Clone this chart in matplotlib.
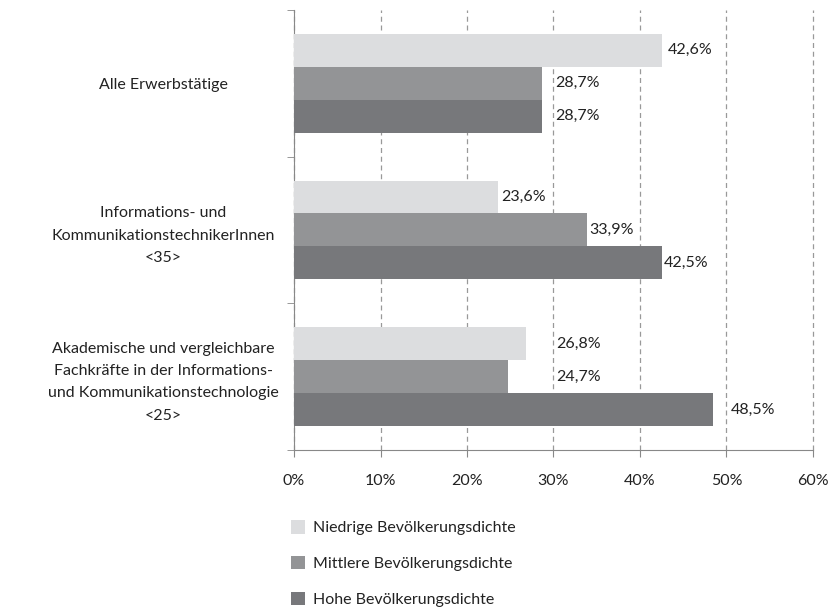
import matplotlib.pyplot as plt
import numpy as np

plt.rcParams['font.family'] = ['Lato', 'DejaVu Sans']

# Daten
kategorien = ['Alle Erwerbstätige',
              'Informations- und\nKommunikationstechnikerInnen\n<35>',
              'Akademische und vergleichbare\nFachkräfte in der Informations-\nund Kommunikationstechnologie\n<25>']
serien = ['Niedrige Bevölkerungsdichte', 'Mittlere Bevölkerungsdichte', 'Hohe Bevölkerungsdichte']
niedrig = [42.6, 23.6, 26.8]
mittel = [28.7, 33.9, 24.7]
hoch = [28.7, 42.5, 48.5]
x_ticks = [0, 10, 20, 30, 40, 50, 60]

farben = ['#dcdddf', '#939496', '#77787b']
# Verschiebung der Beschriftungen (Prozentpunkte), wie im Original von Hand gesetzt
versatz = [[0.6, 1.5, 1.5],
           [0.4, 0.3, 0.3],
           [3.5, 5.6, 2.0]]

fig = plt.figure(figsize=(8.32, 6.14), dpi=100)
ax = fig.add_axes([0.3534, 0.267, 0.6236, 0.717])

pos = np.arange(len(kategorien))
h = 0.2245
werte = [niedrig, mittel, hoch]
for j, (w, f, s) in enumerate(zip(werte, farben, serien)):
    y = pos + (j - 1) * h
    ax.barh(y, w, height=h, color=f, label=s, zorder=3)
    for i in range(len(kategorien)):
        ax.text(w[i] + versatz[i][j], y[i], f'{w[i]:.1f}%'.replace('.', ','),
                va='center', ha='left', fontsize=11.5, color='#222222', zorder=4)

ax.set_xlim(0, 60)
ax.set_ylim(len(kategorien) - 0.5, -0.5)
ax.set_xticks(x_ticks)
ax.set_xticklabels([f'{t}%' for t in x_ticks], fontsize=11.5, color='#222222')
ax.set_yticks(pos)
ax.set_yticklabels(kategorien, fontsize=11.5, color='#222222', multialignment='center',
                   linespacing=1.75)
ax.set_yticks(np.arange(len(kategorien) + 1) - 0.5, minor=True)
ax.tick_params(axis='y', which='major', length=0)
ax.tick_params(axis='y', which='minor', length=5, color='#888888')
ax.tick_params(axis='x', length=5, color='#888888', pad=12)
for lbl in ax.get_yticklabels():
    lbl.set_horizontalalignment('center')
    lbl.set_x(-0.243)

ax.grid(axis='x', linestyle=(0, (4, 3)), color='#999999', linewidth=0.9, zorder=0)
for gl in ax.get_xgridlines():
    gl.set_clip_on(False)
for s in ['top', 'right']:
    ax.spines[s].set_visible(False)
for s in ['left', 'bottom']:
    ax.spines[s].set_color('#888888')

ax.legend(loc='upper left', bbox_to_anchor=(0.332, 0.176), bbox_transform=fig.transFigure,
          frameon=False, fontsize=11.5, handlelength=0.9, handleheight=0.9,
          labelspacing=1.3, handletextpad=0.5, labelcolor='#222222')

fig.savefig('out.png', dpi=100)
